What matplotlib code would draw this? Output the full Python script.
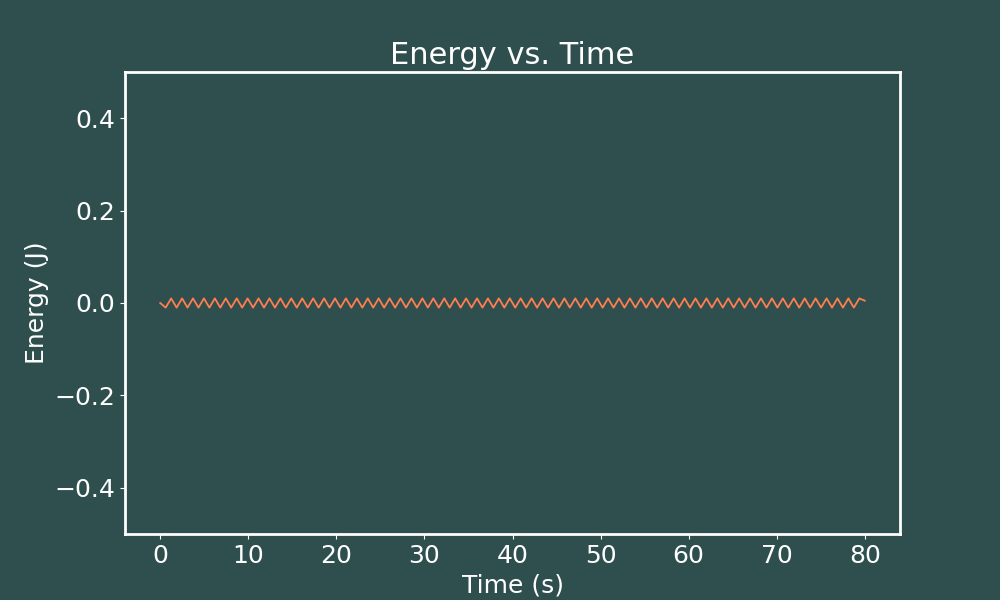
import numpy as np
import matplotlib.pyplot as plt

# energy read at the turning points of the oscillation (J)
energy = [
    0.0,
    -0.01, 0.01, -0.01, 0.01, -0.01, 0.01, -0.01, 0.01, -0.01, 0.01, -0.01, 0.01, -0.01, 0.01, -0.01, 0.01,
    -0.01, 0.01, -0.01, 0.01, -0.01, 0.01, -0.01, 0.01, -0.01, 0.01, -0.01, 0.01, -0.01, 0.01, -0.01, 0.01,
    -0.01, 0.01, -0.01, 0.01, -0.01, 0.01, -0.01, 0.01, -0.01, 0.01, -0.01, 0.01, -0.01, 0.01, -0.01, 0.01,
    -0.01, 0.01, -0.01, 0.01, -0.01, 0.01, -0.01, 0.01, -0.01, 0.01, -0.01, 0.01, -0.01, 0.01, -0.01, 0.01,
    -0.01, 0.01, -0.01, 0.01, -0.01, 0.01, -0.01, 0.01, -0.01, 0.01, -0.01, 0.01, -0.01, 0.01, -0.01, 0.01,
    -0.01, 0.01, -0.01, 0.01, -0.01, 0.01, -0.01, 0.01, -0.01, 0.01, -0.01, 0.01, -0.01, 0.01, -0.01, 0.01,
    -0.01, 0.01, -0.01, 0.01, -0.01, 0.01, -0.01, 0.01, -0.01, 0.01, -0.01, 0.01, -0.01, 0.01, -0.01, 0.01,
    -0.01, 0.01, -0.01, 0.01, -0.01, 0.01, -0.01, 0.01, -0.01, 0.01, -0.01, 0.01, -0.01, 0.01, -0.01, 0.01,
    0.005,
]
time = np.linspace(0, 80, len(energy))

bg = "#2F4F4F"

fig, ax = plt.subplots(figsize=(10, 6), dpi=100)
fig.patch.set_facecolor(bg)
ax.set_facecolor(bg)

ax.plot(time, energy, color="#FF7F50", linewidth=1.3)

ax.set_ylim(-0.5, 0.5)
ax.set_title("Energy vs. Time", color="white", fontsize=22)
ax.set_xlabel("Time (s)", color="white", fontsize=18)
ax.set_ylabel("Energy (J)", color="white", fontsize=18)
ax.tick_params(colors="white", labelsize=18)
for s in ax.spines.values():
    s.set_color("white")
    s.set_linewidth(2)

plt.savefig("out.png")
